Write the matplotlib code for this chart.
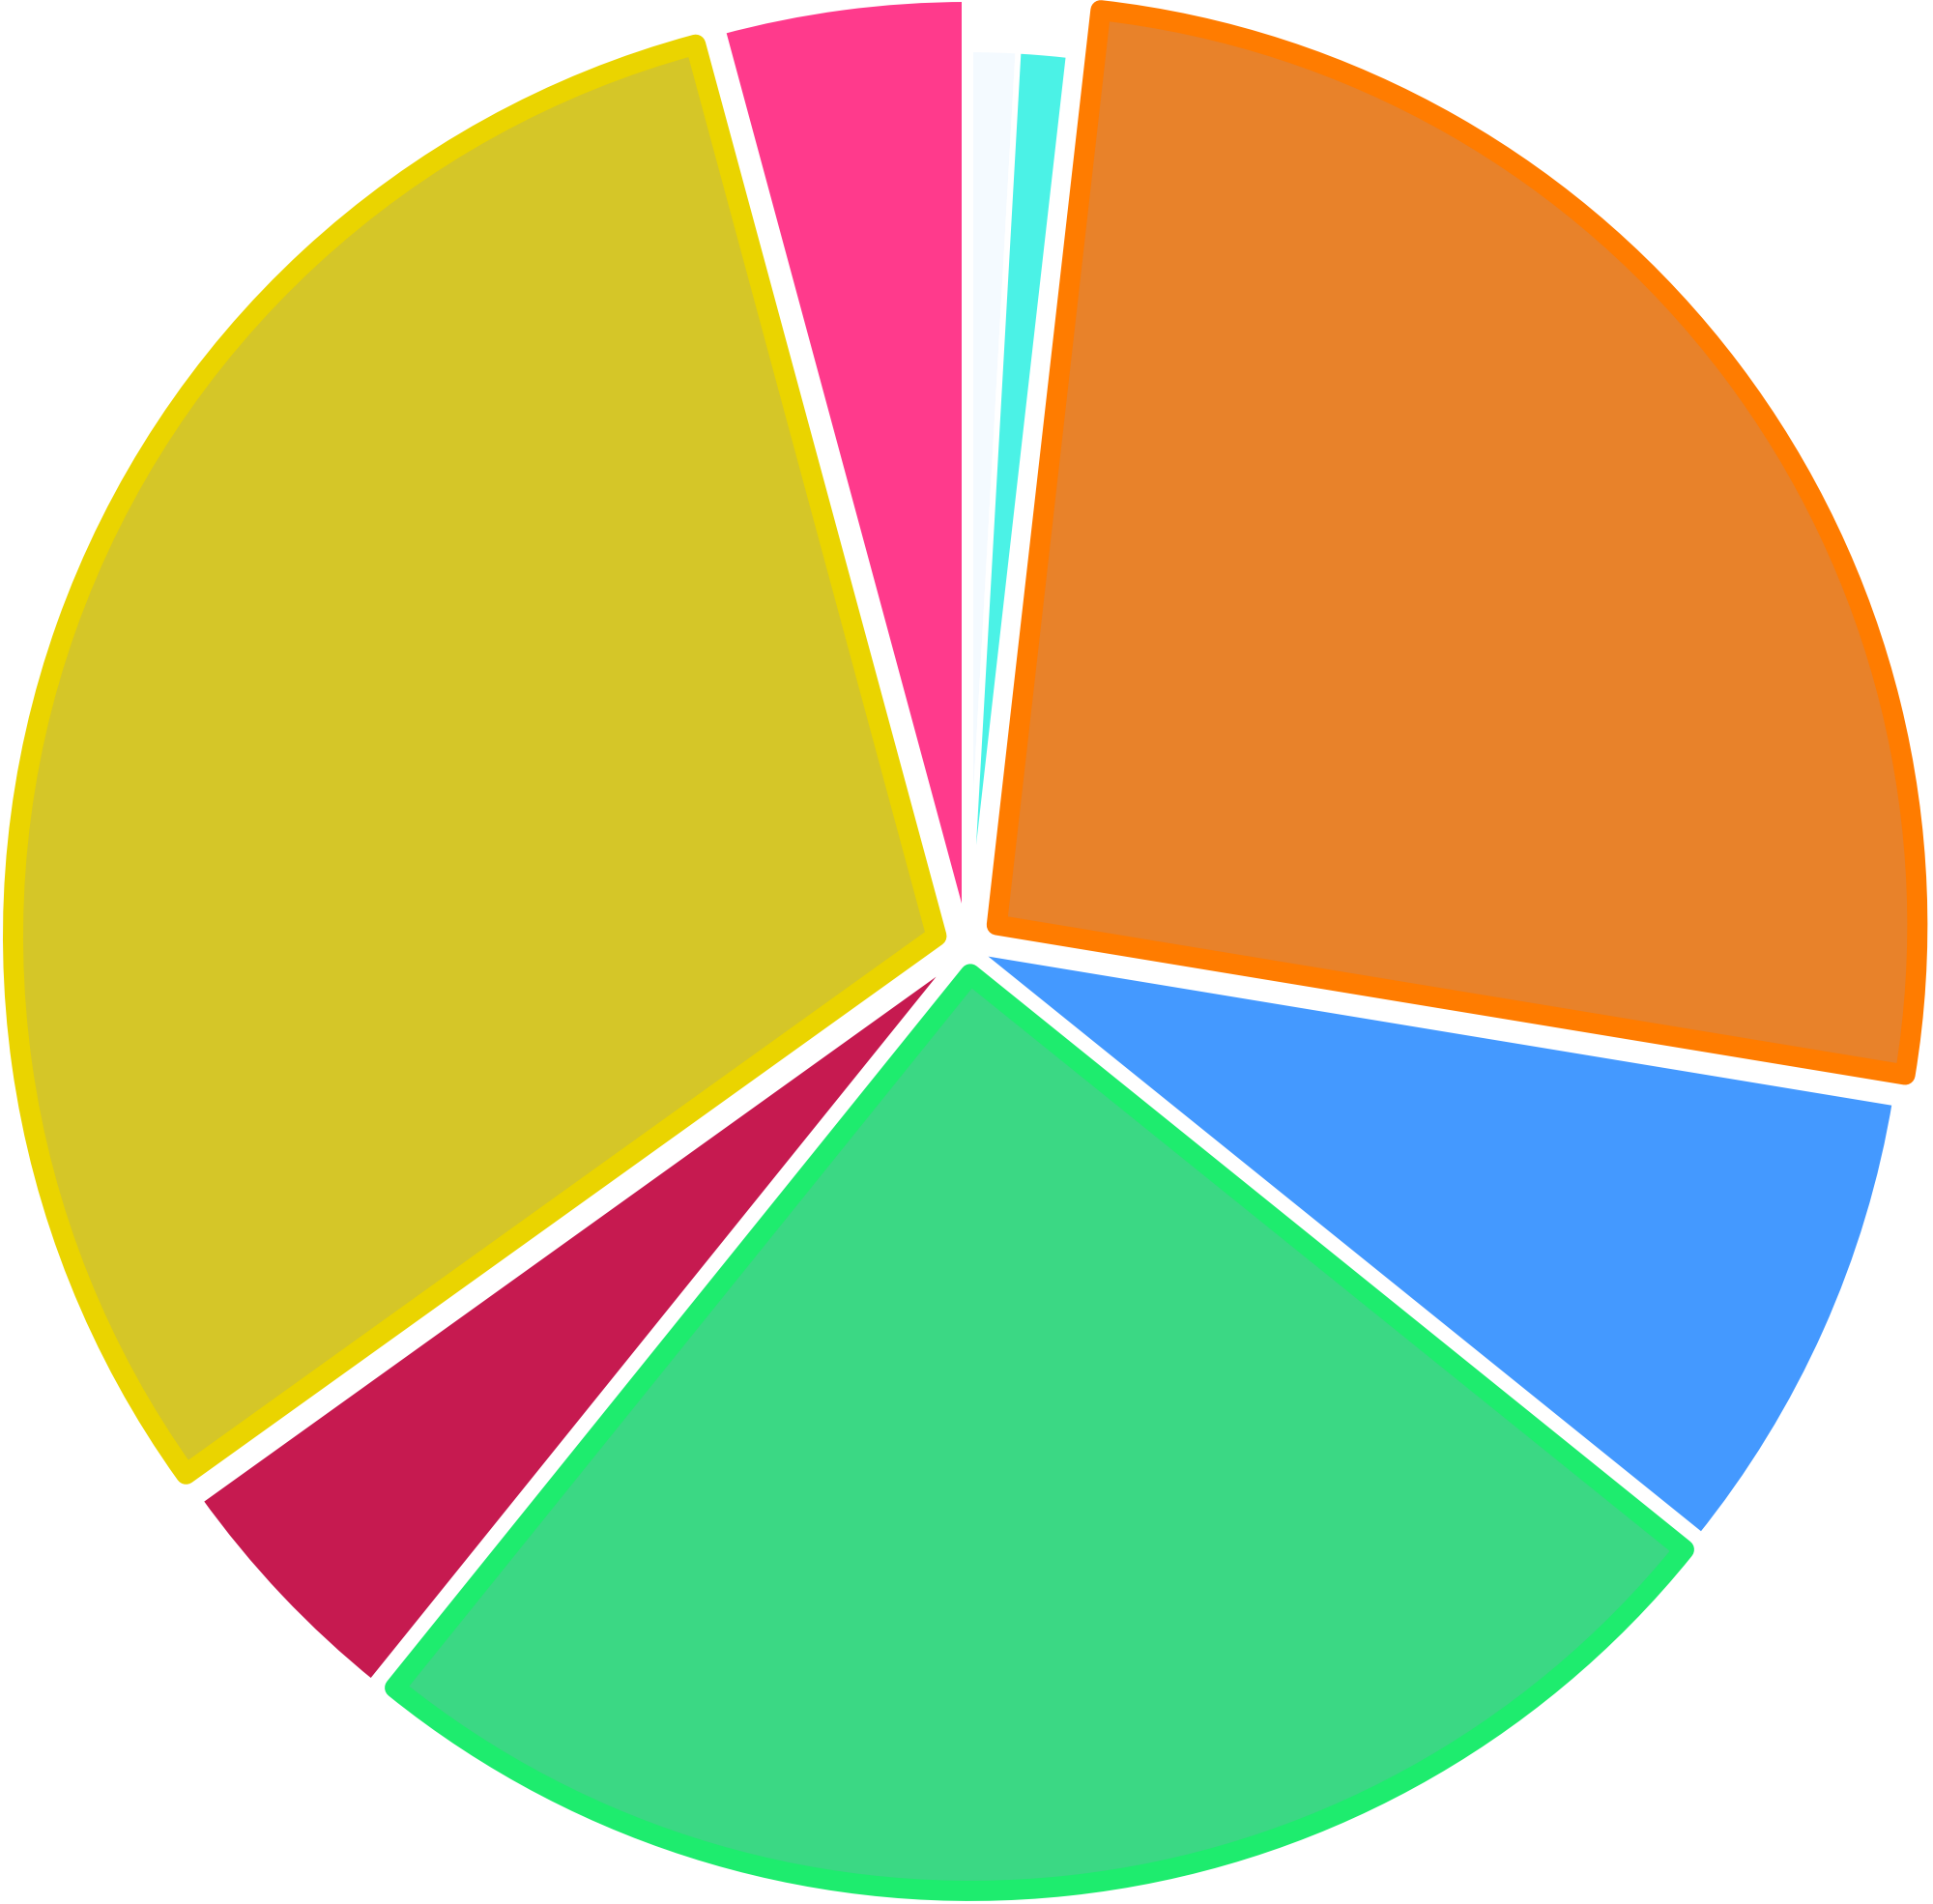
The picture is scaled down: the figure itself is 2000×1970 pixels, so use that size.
import matplotlib
matplotlib.use("Agg")
import matplotlib.pyplot as plt

# slices, clockwise from 12 o'clock
values = [0.9, 0.9, 25.8, 8.2, 25.0, 4.3, 30.7, 4.2]
# relative slice radius (variable pie), in % of the largest
z_values = [94.4, 94.4, 96.8, 99.2, 96.4, 99.8, 97.1, 100.0]
selected = [False, False, True, False, True, False, True, False]

fill_colors = ["#f4faff", "#4bf2e6", "#e8822a", "#4499ff",
               "#3bd884", "#c61a50", "#d5c628", "#ff3a8c"]
border_colors = ["white", "white", "#ff7c00", "white",
                 "#1eec6e", "white", "#ead400", "white"]
sliced_offset = [0, 0, 38, 0, 28, 0, 34, 0]

PX = 72 / 100  # one pixel in points at dpi 100
R = 984
CENTER = (1001, 1970 - 980)

fig = plt.figure(figsize=(20, 19.7), dpi=100)
ax = fig.add_axes([0, 0, 1, 1])

wedges, _ = ax.pie(values, colors=fill_colors, startangle=90, counterclock=False,
                   radius=R, center=CENTER, explode=sliced_offset,
                   wedgeprops=dict(edgecolor="white", linewidth=12 * PX,
                                   joinstyle="round"))

for w, v, z, sel, bc in zip(wedges, values, z_values, selected, border_colors):
    w.set_radius(R * z / 100)
    if sel:
        w.set_edgecolor(bc)
        w.set_linewidth(21 * PX)
        w.set_zorder(3)
    elif v < 2:
        # thin slices keep a thinner gap so they reach the centre
        w.set_linewidth(6 * PX)

ax.set_xlim(0, 2000)
ax.set_ylim(0, 1970)
ax.set_aspect("equal")
ax.axis("off")

fig.savefig("out.png", dpi=100)
